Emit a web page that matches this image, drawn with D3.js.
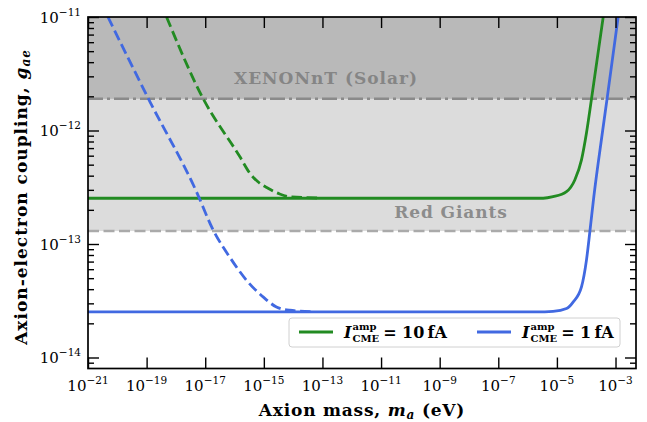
<!DOCTYPE html>
<html><head><meta charset="utf-8">
<script src="https://cdn.jsdelivr.net/npm/d3@7"></script>
<style>body{margin:0;background:#fff}svg{display:block}</style>
</head><body>
<svg id="chart" width="647" height="422"></svg>
<script>
// ---------- data ----------
const xDomain = [1e-21, 5e-3];
const yDomain = [8e-15, 1e-11];
const xTickExponents = [-21, -19, -17, -15, -13, -11, -9, -7, -5, -3];
const yTickExponents = [-14, -13, -12, -11];
const xenonLimit = 1.9e-12;
const redGiantLimit = 1.3e-13;
const bandLabels = ["XENONnT (Solar)", "Red Giants"];
const seriesNames = ["10", "1"];

const greenSolidMass = [1e-21, 3.4e-6, 7.4e-6, 2.13e-5, 4.08e-5, 6.9e-5, 1.02e-4, 1.52e-4, 3.8e-4];
const greenSolidG    = [2.53e-13, 2.53e-13, 2.61e-13, 2.89e-13, 3.66e-13, 5.51e-13, 9.5e-13, 1.91e-12, 1.0e-11];
const blueSolidMass  = [1e-21, 2.0e-6, 7.4e-6, 2.13e-5, 3.57e-5, 6.9e-5, 1.02e-4, 1.33e-4, 1.82e-4, 3.55e-4, 5.16e-4, 1.23e-3];
const blueSolidG     = [2.52e-14, 2.52e-14, 2.55e-14, 2.70e-14, 3.08e-14, 4.19e-14, 7.21e-14, 1.28e-13, 2.61e-13, 9.5e-13, 1.91e-12, 1.0e-11];
const greenDashMass  = [4.79e-19, 8.3e-18, 1.51e-16, 3.31e-16, 7.24e-16, 1.39e-15, 3.47e-15, 7.59e-15, 8.1e-14];
const greenDashG     = [1.0e-11, 1.93e-12, 5.89e-13, 4.21e-13, 3.43e-13, 3.10e-13, 2.76e-13, 2.61e-13, 2.54e-13];
const blueDashMass   = [4.79e-21, 1.29e-19, 5.0e-18, 1.86e-17, 6.76e-17, 2.55e-16, 9.4e-16, 2.69e-15, 7.66e-15, 4.68e-14];
const blueDashG      = [1.0e-11, 1.80e-12, 2.9e-13, 1.33e-13, 7.71e-14, 4.80e-14, 3.42e-14, 2.79e-14, 2.61e-14, 2.53e-14];

// ---------- layout ----------
const W = 647, H = 422;
const m = {top: 17, right: 11, bottom: 53.5, left: 88};
const serif = "'DejaVu Serif', serif";
const GREEN = "#228b22", BLUE = "#4169e1";

const svg = d3.select("#chart");
const x = d3.scaleLog().domain(xDomain).range([m.left, W - m.right]);
const y = d3.scaleLog().domain(yDomain).range([H - m.bottom, m.top]);
const x0 = x.range()[0], x1 = x.range()[1], yTop = y.range()[1], yBot = y.range()[0];

svg.append("defs").append("clipPath").attr("id", "clip")
  .append("rect").attr("x", x0).attr("y", yTop).attr("width", x1 - x0).attr("height", yBot - yTop);

const plot = svg.append("g").attr("clip-path", "url(#clip)");

// bands
plot.append("rect").attr("x", x0).attr("width", x1 - x0)
  .attr("y", y(yDomain[1])).attr("height", y(redGiantLimit) - y(yDomain[1])).attr("fill", "#dcdcdc");
plot.append("rect").attr("x", x0).attr("width", x1 - x0)
  .attr("y", y(yDomain[1])).attr("height", y(xenonLimit) - y(yDomain[1])).attr("fill", "#b9b9b9");
plot.append("line").attr("x1", x0).attr("x2", x1).attr("y1", y(xenonLimit)).attr("y2", y(xenonLimit))
  .attr("stroke", "#8a8a8a").attr("stroke-width", 2.5).attr("stroke-dasharray", "15,4,3,4");
plot.append("line").attr("x1", x0).attr("x2", x1).attr("y1", y(redGiantLimit)).attr("y2", y(redGiantLimit))
  .attr("stroke", "#aaaaaa").attr("stroke-width", 2.5).attr("stroke-dasharray", "11,4.5");

plot.append("text").attr("x", 326).attr("y", 84).attr("text-anchor", "middle")
  .attr("font-family", serif).attr("font-weight", "bold").attr("font-size", 17).attr("letter-spacing", 1)
  .attr("fill", "#858585").text(bandLabels[0]);
plot.append("text").attr("x", 451).attr("y", 218).attr("text-anchor", "middle")
  .attr("font-family", serif).attr("font-weight", "bold").attr("font-size", 17).attr("letter-spacing", 0.9)
  .attr("fill", "#8c8c8c").text(bandLabels[1]);

// curves
const line = d3.line().x(d => x(d[0])).y(d => y(d[1])).curve(d3.curveMonotoneX);
const zip = (a, b) => a.map((v, i) => [v, b[i]]);
function draw(mass, g, color, dashed) {
  plot.append("path").datum(zip(mass, g)).attr("d", line)
    .attr("fill", "none").attr("stroke", color).attr("stroke-width", 2.8)
    .attr("stroke-dasharray", dashed ? "10.5,4.6" : null);
}
draw(greenSolidMass, greenSolidG, GREEN, false);
draw(greenDashMass, greenDashG, GREEN, true);
draw(blueSolidMass, blueSolidG, BLUE, false);
draw(blueDashMass, blueDashG, BLUE, true);

// ---------- axes ----------
const xTicks = xTickExponents.map(e => Math.pow(10, e));
const yTicks = yTickExponents.map(e => Math.pow(10, e));
const yMinor = [];
for (let k = -15; k <= -12; k++) for (let j = 2; j <= 9; j++) {
  const v = j * Math.pow(10, k);
  if (v > yDomain[0] * 1.001 && v < yDomain[1]) yMinor.push(v);
}
function styleAxis(g) {
  g.select(".domain").remove();
  g.selectAll("line").attr("stroke", "#000").attr("stroke-width", 1.4);
  g.selectAll("text").remove();
}
svg.append("g").attr("transform", `translate(0,${yBot})`)
  .call(d3.axisBottom(x).tickValues(xTicks).tickSizeInner(-11).tickSizeOuter(0)).call(styleAxis);
svg.append("g").attr("transform", `translate(0,${yTop})`)
  .call(d3.axisTop(x).tickValues(xTicks).tickSizeInner(-11).tickSizeOuter(0)).call(styleAxis);
svg.append("g").attr("transform", `translate(${x0},0)`)
  .call(d3.axisLeft(y).tickValues(yTicks).tickSizeInner(-11).tickSizeOuter(0)).call(styleAxis);
svg.append("g").attr("transform", `translate(${x0},0)`)
  .call(d3.axisLeft(y).tickValues(yMinor).tickSizeInner(-6).tickSizeOuter(0)).call(styleAxis);
svg.append("g").attr("transform", `translate(${x1},0)`)
  .call(d3.axisRight(y).tickValues(yTicks).tickSizeInner(-11).tickSizeOuter(0)).call(styleAxis);
svg.append("g").attr("transform", `translate(${x1},0)`)
  .call(d3.axisRight(y).tickValues(yMinor).tickSizeInner(-6).tickSizeOuter(0)).call(styleAxis);

svg.append("rect").attr("x", x0).attr("y", yTop).attr("width", x1 - x0).attr("height", yBot - yTop)
  .attr("fill", "none").attr("stroke", "#000").attr("stroke-width", 1.7);

// tick labels
xTickExponents.forEach(e => {
  const t = svg.append("text").attr("x", x(Math.pow(10, e))).attr("y", 391).attr("text-anchor", "middle")
    .attr("font-family", serif).attr("font-size", 15);
  t.append("tspan").text("10");
  t.append("tspan").attr("dy", -7).attr("font-size", 10.5).text("\u2212" + Math.abs(e));
});
yTickExponents.forEach(e => {
  const t = svg.append("text").attr("x", 81).attr("y", y(Math.pow(10, e)) + 5.5).attr("text-anchor", "end")
    .attr("font-family", serif).attr("font-size", 15);
  t.append("tspan").text("10");
  t.append("tspan").attr("dy", -7).attr("font-size", 10.5).text("\u2212" + Math.abs(e));
});

// axis titles
const xl = svg.append("text").attr("x", (x0 + x1) / 2).attr("y", 416).attr("text-anchor", "middle")
  .attr("font-family", serif).attr("font-weight", "bold").attr("font-size", 17).attr("letter-spacing", 0.8);
xl.append("tspan").text("Axion mass, ");
xl.append("tspan").attr("font-style", "italic").text("m");
xl.append("tspan").attr("font-style", "italic").attr("font-size", 12).attr("dy", 3).text("a");
xl.append("tspan").attr("dy", -3).text(" (eV)");

const yl = svg.append("text").attr("transform", `translate(27,197) rotate(-90)`)
  .attr("text-anchor", "middle").attr("font-family", serif).attr("font-weight", "bold")
  .attr("font-size", 17).attr("letter-spacing", 1);
yl.append("tspan").text("Axion-electron coupling, ");
yl.append("tspan").attr("font-style", "italic").text("g");
yl.append("tspan").attr("font-style", "italic").attr("font-size", 12).attr("dy", 3).text("ae");

// ---------- legend ----------
const lg = svg.append("g");
lg.append("rect").attr("x", 289).attr("y", 318).attr("width", 331).attr("height", 29).attr("rx", 3)
  .attr("fill", "#fff").attr("fill-opacity", 0.85).attr("stroke", "#d0d0d0").attr("stroke-width", 1);
function legendItem(xs, color, val) {
  lg.append("line").attr("x1", xs).attr("x2", xs + 34).attr("y1", 332).attr("y2", 332)
    .attr("stroke", color).attr("stroke-width", 2.8);
  let cx = xs + 45;
  const base = 338;
  const I = lg.append("text").attr("x", cx).attr("y", base).attr("font-family", serif)
    .attr("font-style", "italic").attr("font-weight", "bold").attr("font-size", 16).text("I");
  cx += I.node().getComputedTextLength() + 1;
  const sup = lg.append("text").attr("x", cx).attr("y", base - 8).attr("font-family", serif)
    .attr("font-weight", "bold").attr("font-size", 10).text("amp");
  const sub = lg.append("text").attr("x", cx).attr("y", base + 4).attr("font-family", serif)
    .attr("font-weight", "bold").attr("font-size", 10).text("CME");
  cx += Math.max(sup.node().getComputedTextLength(), sub.node().getComputedTextLength()) + 4;
  lg.append("text").attr("x", cx).attr("y", base).attr("font-family", serif)
    .attr("font-weight", "bold").attr("font-size", 16).text("= " + val + "\u2009fA");
}
legendItem(299, GREEN, seriesNames[0]);
legendItem(477, BLUE, seriesNames[1]);
</script>
</body></html>
